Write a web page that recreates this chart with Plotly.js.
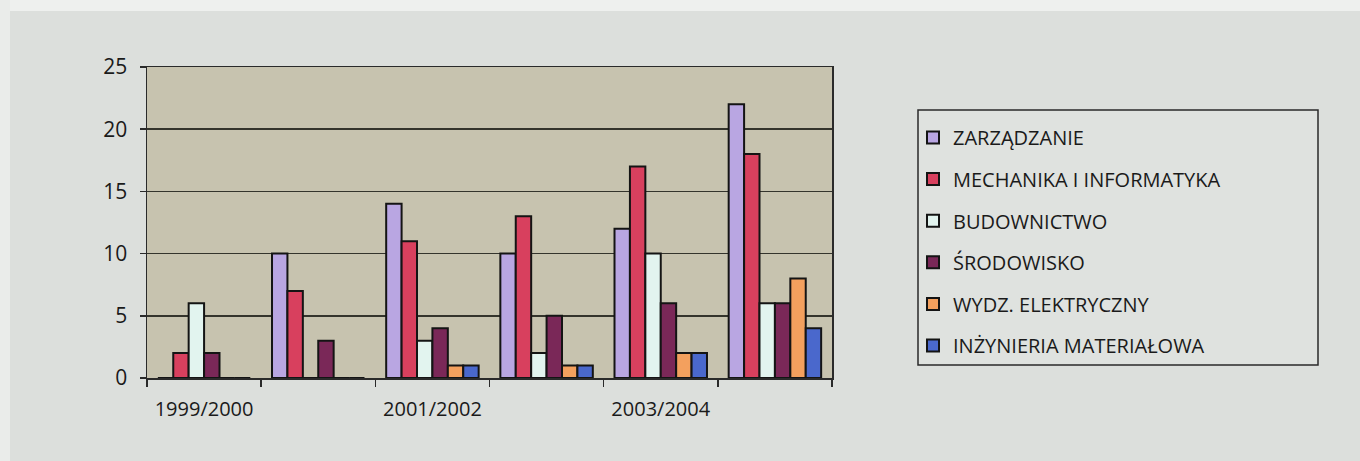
<!DOCTYPE html>
<html>
<head>
<meta charset="utf-8">
<script src="https://cdn.plot.ly/plotly-3.0.1.min.js"></script>
<style>
  html, body { margin: 0; padding: 0; background: #dcdfdc; }
  #chart { width: 1360px; height: 461px; }
</style>
</head>
<body>
<div id="chart"></div>
<script>
// Academic years (one group of bars per year)
const years = ['1999/2000', '2000/2001', '2001/2002', '2002/2003', '2003/2004', '2004/2005'];
// Only every other year is labelled on the axis
const yearLabels = ['1999/2000', '', '2001/2002', '', '2003/2004', ''];

// Faculties
const faculties = [
  'ZARZĄDZANIE',
  'MECHANIKA I INFORMATYKA',
  'BUDOWNICTWO',
  'ŚRODOWISKO',
  'WYDZ. ELEKTRYCZNY',
  'INŻYNIERIA MATERIAŁOWA'
];

// Counts per faculty, one value per academic year
const zarzadzanie = [0, 10, 14, 10, 12, 22];
const mechanika   = [2, 7, 11, 13, 17, 18];
const budownictwo = [6, 0, 3, 2, 10, 6];
const srodowisko  = [2, 3, 4, 5, 6, 6];
const elektryczny = [0, 0, 1, 1, 2, 8];
const materialowa = [0, 0, 1, 1, 2, 4];

const seriesValues = [zarzadzanie, mechanika, budownictwo, srodowisko, elektryczny, materialowa];
const seriesColors = ['#b9a6e2', '#d8405e', '#e2f4ef', '#7a2858', '#f3a05e', '#4a68cc'];

// Plot area in pixels
const W = 1360, H = 461;
const L = 147, R = 832, T = 67, B = 378;
const pw = R - L, ph = B - T;
const px2x = p => (p - L) / pw;
const px2y = p => (B - p) / ph;

const traces = faculties.map((name, i) => ({
  type: 'bar',
  name: name,
  x: years,
  y: seriesValues[i],
  legendgroup: 'g' + i,
  marker: {
    color: seriesColors[i],
    line: { color: '#141414', width: 2 }
  },
  hoverinfo: 'x+y+name'
}));

const layout = {
  width: W,
  height: H,
  margin: { l: L, r: W - R, t: T, b: H - B, pad: 0 },
  paper_bgcolor: '#dcdfdc',
  plot_bgcolor: '#c7c3af',
  font: { family: '"Open Sans", "Noto Sans", sans-serif', color: '#1a1a1a' },
  barmode: 'group',
  bargap: 0.19,
  bargroupgap: 0,
  showlegend: true,
  legend: {
    x: px2x(913),
    xanchor: 'left',
    y: px2y(118),
    yanchor: 'top',
    bgcolor: 'rgba(0,0,0,0)',
    borderwidth: 0,
    font: { size: 20, color: '#1a1a1a' },
    tracegroupgap: 12.6,
    traceorder: 'grouped'
  },
  xaxis: {
    type: 'category',
    tickmode: 'array',
    tickvals: years,
    ticktext: yearLabels,
    tickson: 'boundaries',
    ticks: 'outside',
    ticklen: 7,
    tickwidth: 1.5,
    tickcolor: '#2a2a2a',
    ticklabelstandoff: 12,
    showline: true,
    linecolor: '#2a2a2a',
    linewidth: 1.5,
    mirror: true,
    showgrid: false,
    tickfont: { size: 20, color: '#1a1a1a' },
    fixedrange: true
  },
  yaxis: {
    range: [0, 25],
    tick0: 0,
    dtick: 5,
    ticks: 'outside',
    ticklen: 6,
    tickwidth: 1.5,
    tickcolor: '#2a2a2a',
    ticklabelstandoff: 8,
    showline: true,
    linecolor: '#2a2a2a',
    linewidth: 1.5,
    mirror: true,
    showgrid: true,
    gridcolor: '#34342c',
    gridwidth: 1.5,
    zeroline: false,
    tickfont: { size: 21, color: '#1a1a1a' },
    fixedrange: true
  },
  shapes: [
    // lighter band along the top edge of the page
    {
      type: 'rect', layer: 'below', xref: 'paper', yref: 'paper',
      x0: px2x(0), x1: px2x(W), y0: px2y(11), y1: px2y(0),
      fillcolor: '#eef0ee', line: { width: 0 }
    },
    // lighter band along the left edge of the page
    {
      type: 'rect', layer: 'below', xref: 'paper', yref: 'paper',
      x0: px2x(0), x1: px2x(10), y0: px2y(H), y1: px2y(0),
      fillcolor: '#eaecea', line: { width: 0 }
    },
    // legend frame
    {
      type: 'rect', layer: 'below', xref: 'paper', yref: 'paper',
      x0: px2x(918), x1: px2x(1318), y0: px2y(365), y1: px2y(110),
      fillcolor: '#dfe2df', line: { color: '#2a2a2a', width: 1.5 }
    }
  ]
};

Plotly.newPlot('chart', traces, layout, { displayModeBar: false, staticPlot: true });
</script>
</body>
</html>
